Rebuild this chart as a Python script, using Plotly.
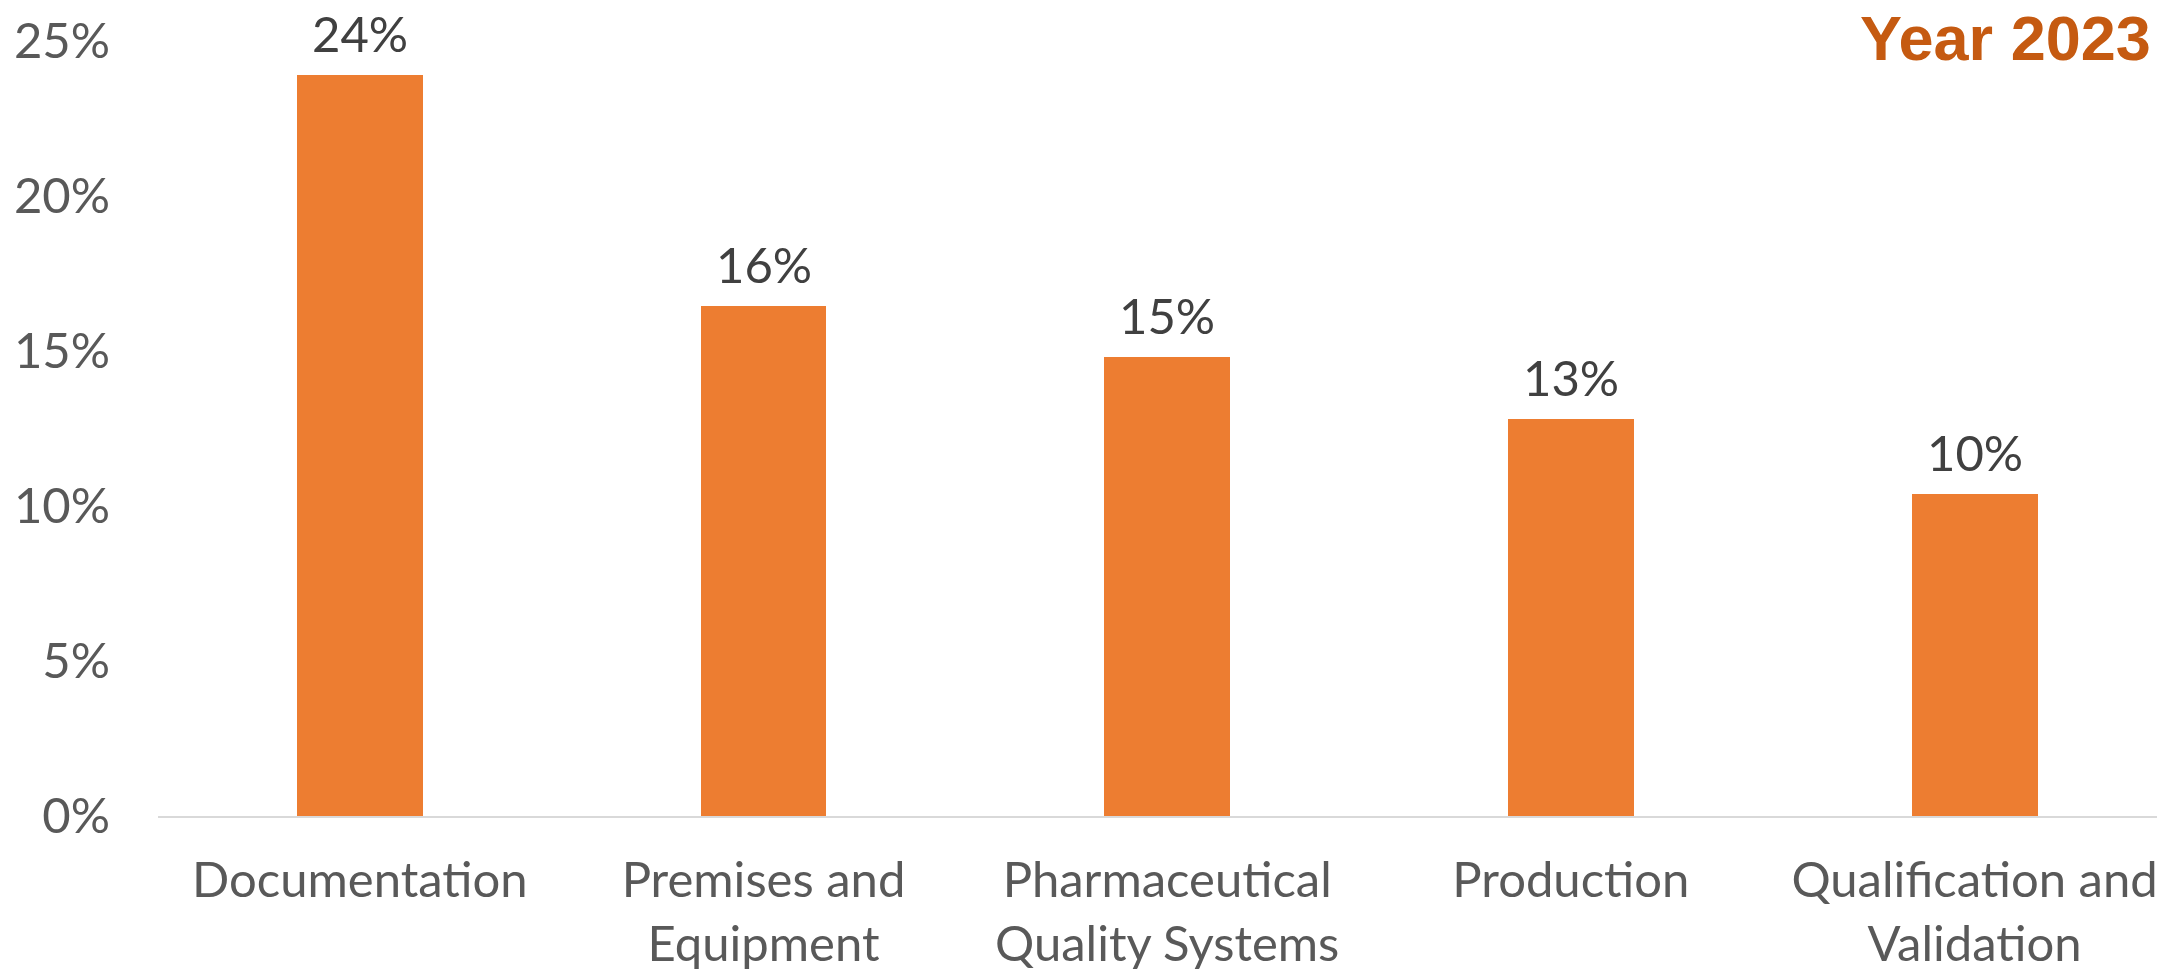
import plotly.graph_objects as go

categories = ["Documentation", "Premises and<br>Equipment", "Pharmaceutical<br>Quality Systems",
              "Production", "Qualification and<br>Validation"]
values = [23.9, 16.45, 14.8, 12.8, 10.4]
labels = ["24%", "16%", "15%", "13%", "10%"]
y_ticks = [0, 5, 10, 15, 20, 25]
y_tick_text = ["0%", "5%", "10%", "15%", "20%", "25%"]
title_text = "Year 2023"

FONT = "Lato"

fig = go.Figure()
fig.add_trace(go.Bar(
    x=list(range(len(categories))),
    y=values,
    width=0.312,
    marker=dict(color="#ED7D31", line=dict(width=0)),
    hoverinfo="skip",
))

for i, (v, t) in enumerate(zip(values, labels)):
    fig.add_annotation(x=i, y=v, xref="x", yref="y", text=t, showarrow=False,
                       yanchor="bottom", yshift=11,
                       font=dict(family=FONT, size=49, color="#404040"))

fig.add_annotation(x=1, y=1, xref="paper", yref="paper", text="<b>" + title_text + "</b>",
                   showarrow=False, xanchor="right", yanchor="middle", xshift=-4, yshift=3,
                   font=dict(family="Liberation Sans, Arial", size=63, color="#C55A11"))

fig.update_layout(
    width=2157, height=972,
    margin=dict(l=158, r=0, t=41, b=156, autoexpand=False),
    paper_bgcolor="white", plot_bgcolor="white",
    showlegend=False,
    bargap=0,
    hovermode=False,
)
fig.update_xaxes(
    range=[-0.5, 4.452], automargin=False,
    tickmode="array", tickvals=list(range(len(categories))), ticktext=categories,
    showgrid=False, zeroline=False,
    showline=True, linecolor="#D9D9D9", linewidth=2,
    ticks="", ticklabelstandoff=20, ticklabeloverflow="allow",
    tickfont=dict(family=FONT, size=49, color="#595959"),
)
fig.update_yaxes(
    range=[0, 25], automargin=False,
    tickmode="array", tickvals=y_ticks, ticktext=y_tick_text,
    showgrid=False, zeroline=False, showline=False,
    ticks="", ticklabelstandoff=47, ticklabeloverflow="allow",
    tickfont=dict(family=FONT, size=49, color="#595959"),
)

fig.write_html("out.html",
               config={"displayModeBar": False},
               post_script="document.body.style.margin='0';document.body.style.overflow='hidden';")
